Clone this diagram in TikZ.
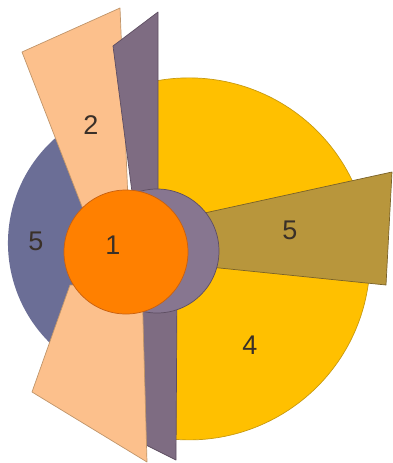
\documentclass[tikz,border=0pt]{standalone}
\usepackage{fontspec}
\setmainfont{Liberation Sans}
\definecolor{slate}{HTML}{6B6E96}
\definecolor{peach}{HTML}{FCC08C}
\definecolor{peachline}{HTML}{C0956A}
\definecolor{mauve}{HTML}{7E6C82}
\definecolor{mauveline}{HTML}{5E4E62}
\definecolor{gold}{HTML}{FFC000}
\definecolor{goldline}{HTML}{C89A10}
\definecolor{olive}{HTML}{B8963C}
\definecolor{oliveline}{HTML}{7A6228}
\definecolor{orng}{HTML}{FF8000}
\definecolor{orngline}{HTML}{C86010}
\definecolor{disk}{HTML}{877690}
\definecolor{txt}{HTML}{3A3028}
\tikzset{
  lab/.style={font=\fontsize{27}{27}\selectfont, text=txt, inner sep=0pt},
  edge/.style={line width=0.7pt, line join=round},
}
\begin{document}
\begin{tikzpicture}[x=1pt, y=-1pt]
\useasboundingbox (0,0) rectangle (392,463);
% left slate sector
\fill[slate] (148,243) -- ++(115:140) arc[start angle=115, end angle=245, radius=140] -- cycle;
% yellow
\filldraw[gold, draw=goldline, edge] (157,437) arc[start angle=100.2, end angle=-100.2, radius=181] -- cycle;
% top peach bar
\filldraw[peach, draw=peachline, edge] (22,52) -- (120,8) -- (128,200) -- (95,240) -- cycle;
% top mauve bar
\filldraw[mauve, draw=mauveline, edge] (113,46) -- (158,12) -- (158,215) -- (135,215) -- cycle;
% right olive beam
\filldraw[olive, draw=oliveline, edge] (200,214) -- (392,172) -- (386,285) -- (200,266) -- cycle;
% bottom mauve bar
\filldraw[mauve, draw=mauveline, edge] (142,290) -- (177,290) -- (176,460) -- (142,443) -- cycle;
% bottom peach bar
\filldraw[peach, draw=peachline, edge] (70,285) -- (142,285) -- (147,462) -- (32,392) -- cycle;
% purple disk
\filldraw[disk, draw=mauveline, edge] (157,251) circle[radius=62];
% orange disk
\filldraw[orng, draw=orngline, edge] (126,252) circle[radius=62];
% labels
\node[lab] (l2) at (91,125) {2};
\node[lab] (l5a) at (36,241) {5};
\node[lab] (l1) at (113,245) {1};
\node[lab] (l5b) at (290,230) {5};
\node[lab] (l4) at (250,345) {4};
\end{tikzpicture}
\end{document}
